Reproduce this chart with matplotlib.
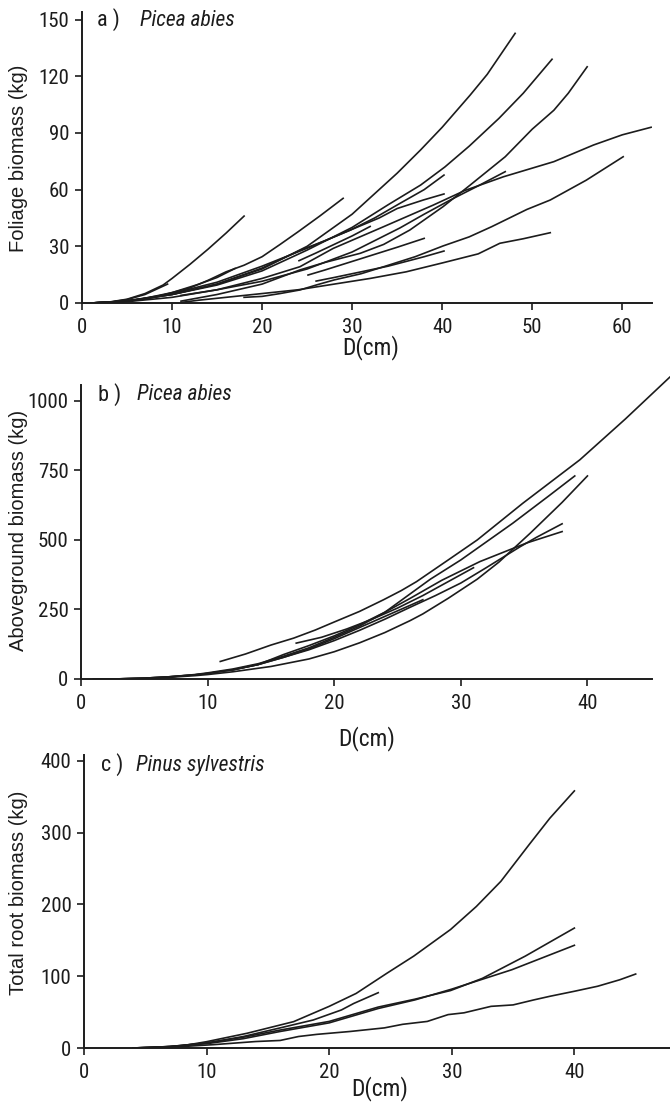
import matplotlib
matplotlib.use('Agg')
import matplotlib.pyplot as plt

# ---------------- Panel a: Picea abies, foliage biomass ----------------
a01_d = [1, 3, 5, 7, 9, 10, 12, 14, 16, 18]
a01_w = [0, 0.5, 2, 5, 9.5, 13, 20.5, 28.5, 37, 46]
a02_d = [1, 3, 5, 7, 9.5]
a02_w = [0, 0.4, 1.8, 4.5, 10]
a03_d = [1, 4, 7, 10, 13, 15, 17]
a03_w = [0, 0.7, 2.5, 5.5, 10, 13.5, 18.3]
a04_d = [2, 4, 6, 8, 10, 12, 14, 16, 18, 20, 22, 24, 26.4, 29]
a04_w = [0, 0.5, 1.5, 3, 5.5, 8, 12, 16.5, 20, 24.5, 31, 37.7, 46, 55.4]
a05_d = [1, 5, 10, 15, 20, 25, 30, 35, 37.6, 40, 43.1, 45, 48.1]
a05_w = [0, 1, 4.5, 10, 18, 30, 47, 68.7, 81, 93, 110, 121, 142.7]
a06_d = [1, 5, 10, 15, 20, 25, 30, 34, 37.6, 40.3, 43, 46.3, 49, 52.2]
a06_w = [0, 1, 4.5, 9.5, 17, 28, 40, 52, 62.4, 72, 83, 97.7, 111, 129]
a07_d = [11, 15, 20, 24.2, 27, 30.9, 33.5, 36.4, 40.1, 43, 47, 50, 52.4, 54, 56.1]
a07_w = [1, 4.5, 10, 17.5, 21.5, 26.3, 31, 38.6, 51, 62, 77.4, 92, 102, 111, 125]
a08_d = [1, 5, 10, 15, 20, 24.2, 27.9, 33.5, 39, 42.5, 46.8, 52.4, 56.8, 60, 63.2]
a08_w = [0, 0.7, 3, 7, 13, 19.2, 28.9, 40.4, 51.8, 59.5, 66.8, 74.8, 83.6, 89, 93]
a09_d = [18, 20, 22, 24.2, 26, 28, 31, 33.5, 37, 40.1, 43, 45.5, 49.4, 52, 56, 60.1]
a09_w = [3, 3.5, 5, 6.9, 9.5, 12.2, 15.5, 19.2, 24.5, 30.2, 35, 40.4, 49.5, 54.5, 65, 77.4]
a10_d = [11, 13, 15, 18, 20, 24, 28, 32, 36, 40.1, 44, 46.4, 49, 52]
a10_w = [0.3, 1.5, 2.5, 4, 5, 7, 10, 13, 16.5, 21.3, 26, 31.6, 34, 37.2]
a11_d = [26, 28, 30, 32, 34, 36, 38, 40.2]
a11_w = [11.6, 13.5, 15.5, 17.5, 19.5, 22, 24.5, 27.5]
a12_d = [25.1, 27, 29, 31, 33, 35, 38]
a12_w = [14.8, 17.5, 20.5, 23.5, 26.5, 29.5, 34.2]
a13_d = [1, 5, 10, 15, 20, 24.2, 27, 29.8, 32.5, 35.3, 38, 40.2]
a13_w = [0, 1, 4.5, 10, 18.5, 27.8, 33, 38.6, 45, 52.7, 60, 67.7]
a14_d = [1, 5, 10, 15, 20, 25, 30, 33, 35, 37.9, 40.2]
a14_w = [0, 1, 5, 11, 19.5, 29, 39, 45, 50, 54.5, 57.7]
a15_d = [11, 15, 20, 25, 30, 35.3, 38, 40.9, 44, 47]
a15_w = [4, 7, 11.5, 18, 27, 39.7, 47, 54.5, 62, 69.5]
a16_d = [24.1, 26, 28, 30, 32]
a16_w = [22.4, 26.5, 31, 35.5, 40.5]

# ---------------- Panel b: Picea abies, aboveground biomass ----------------
b1_d = [11, 13, 15, 16.8, 18.5, 19.9, 22, 23.9, 25.3, 26.5, 29.1, 31.3, 34.9, 39.4, 43, 46.5]
b1_w = [63, 90, 122, 147, 176, 203, 243, 285, 318, 350, 431, 500, 632, 788, 935, 1085]
b2_d = [1, 3, 5, 7, 9, 10, 12, 14, 16, 18, 20, 22, 24, 27.6, 30, 34.1, 37, 39]
b2_w = [0, 0.5, 3, 8, 16, 22, 36, 55, 82, 112, 150, 190, 240, 359, 428, 560, 660, 730]
b3_d = [1, 3, 5, 7, 9, 10, 12, 15, 18, 20, 22, 24, 26, 27, 29, 31.3, 33, 35.5, 38, 40]
b3_w = [0, 0.5, 2, 6, 12, 16, 26, 45, 72, 98, 130, 167, 210, 234, 290, 359, 420, 525, 635, 730]
b4_d = [12, 14, 16, 18, 20, 22, 24, 26, 28, 30, 32, 34.7, 36, 38]
b4_w = [33, 52, 78, 105, 138, 175, 215, 258, 300, 345, 400, 476, 510, 558]
b5_d = [1, 3, 5, 7, 9, 10, 12, 14, 16, 18, 20, 22, 24, 26, 28.5, 31.5, 35.2, 38]
b5_w = [0, 0.5, 3, 8, 15, 20, 33, 52, 88, 120, 155, 195, 240, 290, 355, 422, 489, 530]
b6_d = [1, 3, 5, 7, 9, 10, 12, 14, 16, 18, 20, 22, 24, 27]
b6_w = [0, 0.5, 3, 8, 15, 20, 33, 52, 78, 108, 145, 185, 225, 285]
b7_d = [17, 19, 21, 23, 25, 27, 29, 31]
b7_w = [129, 150, 180, 215, 255, 300, 350, 400]

# ---------------- Panel c: Pinus sylvestris, total root biomass ----------------
c1_d = [4, 6, 8, 10, 13.3, 17.1, 20, 22.2, 24.7, 26.9, 29.9, 32, 34, 36.3, 38, 40]
c1_w = [0, 1, 3, 8.8, 20.5, 36.7, 58, 76, 104, 128, 165, 197, 232, 283, 320, 358]
c2_d = [4, 7, 10, 13, 16, 18.7, 21, 22, 24]
c2_w = [0, 2, 7, 16, 28, 39, 53, 62, 77]
c3_d = [4, 7, 10, 13, 16, 20, 24, 27, 29.9, 32.5, 36, 40]
c3_w = [0, 2, 7, 15, 25, 37, 57, 68, 80, 97, 128, 167]
c4_d = [4, 7, 10, 13, 16, 20, 24, 27, 30, 34.9, 40]
c4_w = [0, 2, 6, 13, 23, 35, 55, 67, 82, 109, 143]
c5_d = [5, 8, 10.6, 14, 16, 17.5, 19, 21.7, 24.5, 26, 28, 29.7, 31, 33.2, 35, 36.7, 38, 40, 41.9, 43.7, 45]
c5_w = [0, 2, 4.7, 9, 10.5, 16, 19, 23, 28, 33, 37, 46.5, 49, 58, 60, 67, 72, 79, 86, 95, 103]

a_xticks = [0, 10, 20, 30, 40, 50, 60]
a_yticks = [0, 30, 60, 90, 120, 150]
b_xticks = [0, 10, 20, 30, 40]
b_yticks = [0, 250, 500, 750, 1000]
c_xticks = [0, 10, 20, 30, 40]
c_yticks = [0, 100, 200, 300, 400]

W, H = 670, 1103
fig = plt.figure(figsize=(W / 100, H / 100), dpi=100)
NARROW = ['Roboto Condensed', 'DejaVu Sans']
REG = ['Liberation Sans', 'DejaVu Sans']
INK = '#1c1c1c'


def px_axes(l, t, r, b):
    return fig.add_axes([l / W, 1 - b / H, (r - l) / W, (b - t) / H])


def ftext(x, y, s, **kw):
    fig.text(x / W, 1 - y / H, s, **kw)


def style(ax, xlim, ylim, xt, yt):
    ax.set_xlim(*xlim)
    ax.set_ylim(*ylim)
    for s in ['top', 'right']:
        ax.spines[s].set_visible(False)
    for s in ['left', 'bottom']:
        ax.spines[s].set_linewidth(1.4)
        ax.spines[s].set_color(INK)
    ax.set_xticks(xt)
    ax.set_yticks(yt)
    ax.tick_params(direction='out', length=5, width=1.2, color=INK,
                   labelsize=15, labelcolor=INK)
    ax.tick_params(axis='x', pad=6)
    ax.tick_params(axis='y', pad=4)
    for lab in ax.get_xticklabels() + ax.get_yticklabels():
        lab.set_family(NARROW)
    ax.patch.set_alpha(0)


def draw(ax, pairs, clip=True):
    for d, w in pairs:
        ax.plot(d, w, color=INK, lw=1.2, solid_joinstyle='round', clip_on=clip)


# Panel a
axa = px_axes(82, 12, 652, 303)
draw(axa, [(a01_d, a01_w), (a02_d, a02_w), (a03_d, a03_w), (a04_d, a04_w),
           (a05_d, a05_w), (a06_d, a06_w), (a07_d, a07_w), (a08_d, a08_w),
           (a09_d, a09_w), (a10_d, a10_w), (a11_d, a11_w), (a12_d, a12_w),
           (a13_d, a13_w), (a14_d, a14_w), (a15_d, a15_w), (a16_d, a16_w)])
style(axa, (0, 63.3), (0, 154), a_xticks, a_yticks)

# Panel b
axb = px_axes(81, 385, 652, 679)
draw(axb, [(b2_d, b2_w), (b3_d, b3_w), (b4_d, b4_w), (b5_d, b5_w),
           (b6_d, b6_w), (b7_d, b7_w)])
draw(axb, [(b1_d, b1_w)], clip=False)
style(axb, (0, 45.1), (0, 1057), b_xticks, b_yticks)

# Panel c
axc = px_axes(84, 755, 670, 1048)
draw(axc, [(c1_d, c1_w), (c2_d, c2_w), (c3_d, c3_w), (c4_d, c4_w), (c5_d, c5_w)])
style(axc, (0, 47.8), (0, 408), c_xticks, c_yticks)

# Axis labels
ylab_kw = dict(rotation=90, ha='center', va='center', fontsize=14.5,
               family=REG, color=INK)
ftext(19, 158, 'Foliage biomass (kg)', **ylab_kw)
ftext(19, 530, 'Aboveground biomass (kg)', **ylab_kw)
ftext(19, 893, 'Total root biomass (kg)', **ylab_kw)

xlab_kw = dict(ha='center', va='center', fontsize=17, family=NARROW, color=INK)
ftext(371, 348, 'D(cm)', **xlab_kw)
ftext(367, 739, 'D(cm)', **xlab_kw)
ftext(380, 1089, 'D(cm)', **xlab_kw)

# Panel tags and species names
tag_kw = dict(ha='left', va='center', fontsize=16, family=NARROW, color=INK)
sp_kw = dict(ha='left', va='center', fontsize=15.5, family=NARROW,
             style='italic', color=INK)
ftext(97, 20, 'a )', **tag_kw)
ftext(140, 20, 'Picea abies', **sp_kw)
ftext(98, 395, 'b )', **tag_kw)
ftext(137, 395, 'Picea abies', **sp_kw)
ftext(101, 765, 'c )', **tag_kw)
ftext(136, 765, 'Pinus sylvestris', **sp_kw)

fig.savefig('out.png', dpi=100)
